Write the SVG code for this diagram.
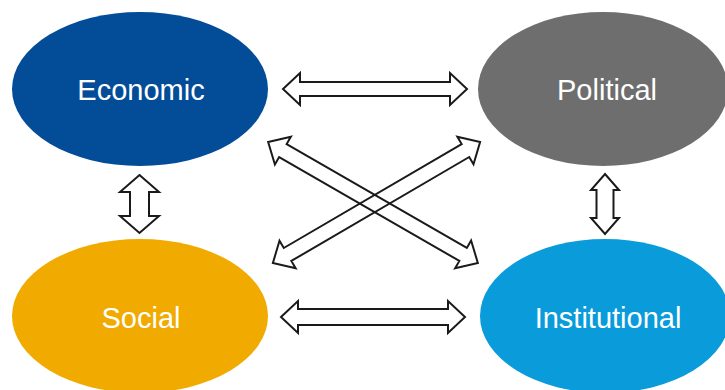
<svg xmlns="http://www.w3.org/2000/svg" width="725" height="390" viewBox="0 0 725 390">
<style>
.lbl{font-family:"Liberation Sans",Arial,sans-serif;font-size:29px;fill:#ffffff;text-anchor:middle}
.arr{fill:none;stroke:#1a1a1a;stroke-width:2;stroke-linejoin:miter}
</style>
<rect width="725" height="390" fill="#ffffff"/>
<g id="economic">
<ellipse cx="140" cy="89" rx="128" ry="77" fill="#034C97"/>
<text class="lbl" x="141" y="100">Economic</text>
</g>
<g id="political">
<ellipse cx="603" cy="89" rx="125" ry="77" fill="#6D6E6D"/>
<text class="lbl" x="607" y="100">Political</text>
</g>
<g id="social">
<ellipse cx="140" cy="316" rx="128" ry="77" fill="#F1AB00"/>
<text class="lbl" x="141" y="328">Social</text>
</g>
<g id="institutional">
<ellipse cx="605" cy="316" rx="125" ry="77" fill="#0A9BDB"/>
<text class="lbl" x="608" y="328">Institutional</text>
</g>
<g id="connectors">
<polygon class="arr" transform="translate(375,89)" points="-92,0 -75,-16 -75,-7 75,-7 75,-16 92,0 75,16 75,7 -75,7 -75,16"/>
<polygon class="arr" transform="translate(373,317)" points="-92,0 -75,-16 -75,-8 75,-8 75,-16 92,0 75,16 75,8 -75,8 -75,16"/>
<polygon class="arr" transform="translate(139.5,204)" points="0,-29 19.5,-12 9.5,-12 9.5,12 19.5,12 0,29 -19.5,12 -9.5,12 -9.5,-12 -19.5,-12"/>
<polygon class="arr" transform="translate(605,204)" points="0,-30 14,-14 8.5,-14 8.5,14 14,14 0,30 -14,14 -8.5,14 -8.5,-14 -14,-14"/>
<polygon class="arr" transform="translate(373,202.5) rotate(29.95)" points="-121,0 -104,-16 -104,-7.5 104,-7.5 104,-16 121,0 104,16 104,7.5 -104,7.5 -104,16"/>
<polygon class="arr" transform="translate(376.5,202.5) rotate(-30.3)" points="-120,0 -103,-16 -103,-7.5 103,-7.5 103,-16 120,0 103,16 103,7.5 -103,7.5 -103,16"/>
</g>
</svg>
